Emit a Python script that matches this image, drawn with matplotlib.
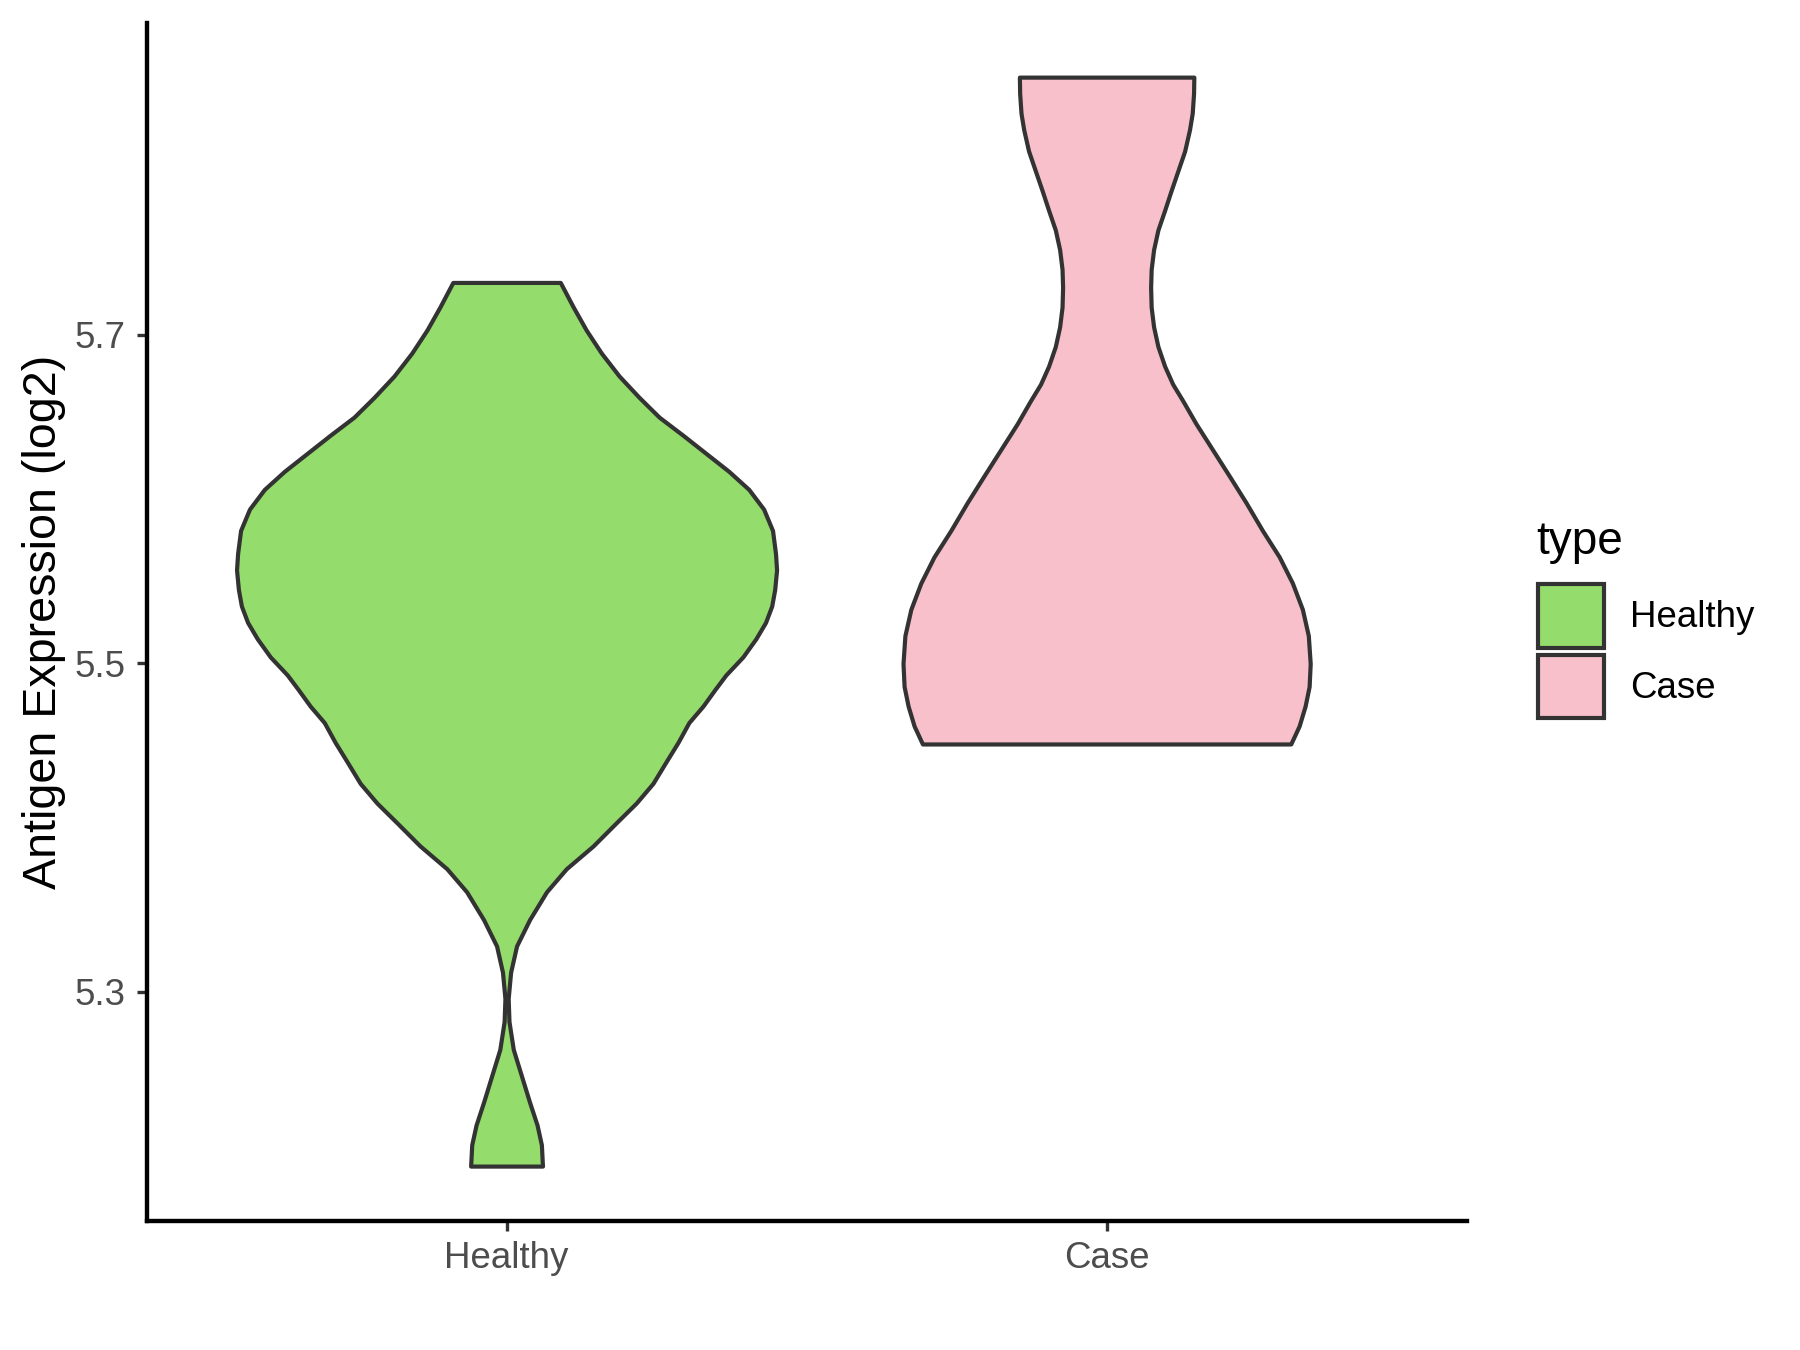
import numpy as np
import matplotlib
matplotlib.use("Agg")
import matplotlib.pyplot as plt
from matplotlib.patches import Patch

plt.rcParams['font.family'] = ['Liberation Sans', 'DejaVu Sans']

# Groups and colours
groups = ["Healthy", "Case"]
colors = ["#94DC6B", "#F7C0CB"]

# Violin outlines: expression level and scaled density (1 = widest)
healthy_y = [5.194, 5.207, 5.219, 5.233, 5.249, 5.265, 5.282, 5.296, 5.312, 5.328,
             5.344, 5.361, 5.375, 5.389, 5.403, 5.415, 5.427, 5.440, 5.452, 5.464,
             5.474, 5.484, 5.493, 5.504, 5.515, 5.525, 5.535, 5.545, 5.557, 5.567,
             5.581, 5.594, 5.606, 5.617, 5.628, 5.639, 5.650, 5.662, 5.675, 5.689,
             5.703, 5.717, 5.732]
healthy_dens = [0.133, 0.129, 0.113, 0.085, 0.055, 0.025, 0.009, 0.006, 0.015, 0.037,
                0.085, 0.148, 0.221, 0.321, 0.406, 0.480, 0.542, 0.590, 0.635, 0.675,
                0.727, 0.771, 0.812, 0.875, 0.923, 0.959, 0.982, 0.993, 1.000, 0.996,
                0.985, 0.952, 0.897, 0.823, 0.738, 0.653, 0.565, 0.491, 0.417, 0.351,
                0.295, 0.247, 0.199]

case_y = [5.451, 5.462, 5.474, 5.486, 5.500, 5.517, 5.533, 5.549, 5.565, 5.581,
          5.598, 5.614, 5.630, 5.646, 5.660, 5.670, 5.681, 5.693, 5.705, 5.717,
          5.729, 5.740, 5.752, 5.764, 5.776, 5.788, 5.800, 5.812, 5.825, 5.835,
          5.847, 5.857]
case_dens = [0.682, 0.713, 0.735, 0.750, 0.754, 0.747, 0.725, 0.688, 0.639, 0.577,
             0.516, 0.455, 0.393, 0.331, 0.282, 0.245, 0.215, 0.190, 0.174, 0.165,
             0.163, 0.165, 0.174, 0.190, 0.215, 0.239, 0.264, 0.289, 0.307, 0.317,
             0.322, 0.323]

yticks = [5.3, 5.5, 5.7]

# Build violin stats for matplotlib
all_y = [healthy_y, case_y]
all_d = [healthy_dens, case_dens]
vpstats = []
for ys, ds in zip(all_y, all_d):
    vpstats.append({
        "coords": np.array(ys),
        "vals": np.array(ds),
        "mean": np.nan, "median": np.nan,
        "min": min(ys), "max": max(ys),
    })

fig = plt.figure(figsize=(6, 4.5), dpi=300)
ax = fig.add_axes([0.0814, 0.0959, 0.7334, 0.8873])

positions = [1, 2]
widths = [0.9 * max(d) for d in all_d]
parts = ax.violin(vpstats, positions=positions, widths=widths, showextrema=False)
for body, c in zip(parts["bodies"], colors):
    body.set_facecolor(c)
    body.set_edgecolor("#333333")
    body.set_linewidth(1.0)
    body.set_alpha(1)
    body.set_joinstyle("round")

# ggplot style limits with 5% expansion
ymin = min(min(y) for y in all_y)
ymax = max(max(y) for y in all_y)
pad = (ymax - ymin) * 0.05
ax.set_ylim(ymin - pad, ymax + pad)
ax.set_xlim(0.4, 2.6)

ax.set_xticks(positions)
ax.set_xticklabels(groups)
ax.set_yticks(yticks)
ax.set_yticklabels([f"{v:.1f}" for v in yticks])

ax.tick_params(axis="both", colors="#333333", labelcolor="#4D4D4D",
               labelsize=8.8, length=2.3, width=0.8)
ax.tick_params(axis="x", pad=2.5)
ax.tick_params(axis="y", pad=2.7)

for side in ["top", "right"]:
    ax.spines[side].set_visible(False)
for side in ["left", "bottom"]:
    ax.spines[side].set_linewidth(1.05)
    ax.spines[side].set_color("black")
    ax.spines[side].set_capstyle("projecting")

ax.set_ylabel("Antigen Expression (log2)", fontsize=11.2, color="black", labelpad=2)

# Legend (title placed as separate text, like ggplot's spacing)
fig.text(0.8533, 0.5985, "type", fontsize=11, ha="left", va="center")
handles = [Patch(facecolor=c, edgecolor="#333333", linewidth=1.0, label=g)
           for g, c in zip(groups, colors)]
leg = fig.legend(handles=handles, loc="upper left",
                 bbox_to_anchor=(0.8546, 0.5672), frameon=False,
                 fontsize=8.8, handlelength=1.8, handleheight=2.28,
                 handletextpad=0.7, labelspacing=0.2,
                 borderpad=0, borderaxespad=0)

fig.savefig("out.png", dpi=300)
